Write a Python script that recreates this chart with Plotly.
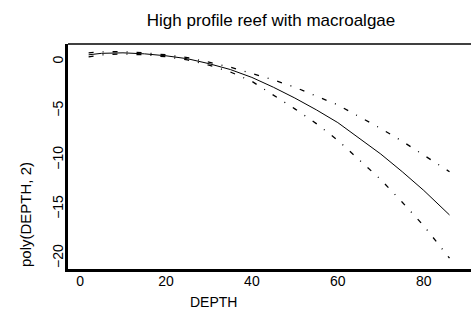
import plotly.graph_objects as go

depth = [2, 5, 10, 15, 20, 25, 30, 35, 40, 45, 50, 55, 60, 65, 70, 75, 80, 86]
fit = [0.7, 0.85, 0.9, 0.8, 0.6, 0.3, -0.2, -0.8, -1.6, -2.6, -3.7, -4.9, -6.2, -7.8, -9.4, -11.2, -13.1, -15.6]
upper = [0.9, 1.0, 1.02, 0.9, 0.7, 0.42, -0.05, -0.55, -1.2, -1.85, -2.6, -3.5, -4.4, -5.6, -6.8, -8.1, -9.5, -11.2]
lower = [0.5, 0.7, 0.78, 0.7, 0.5, 0.18, -0.35, -1.05, -2.0, -3.4, -4.8, -6.3, -8.0, -10.0, -12.0, -14.3, -16.7, -20.0]
xticks = [0, 20, 40, 60, 80]
yticks = [0, -5, -10, -15, -20]

font = "Liberation Sans, Arial, sans-serif"
fig = go.Figure()
fig.add_trace(go.Scatter(x=depth, y=fit, mode="lines", line=dict(color="black", width=1), showlegend=False))
for band in (upper, lower):
    fig.add_trace(go.Scatter(x=depth, y=band, mode="lines",
                             line=dict(color="black", width=1.3, dash="5px,9px,1px,9px"),
                             showlegend=False))

fig.update_layout(
    width=471, height=314,
    margin=dict(l=68, r=0, t=44, b=45, autoexpand=False),
    paper_bgcolor="white", plot_bgcolor="white",
    font=dict(family=font, color="black", size=13),
    title=dict(text="High profile reef with macroalgae", x=271 / 471, xanchor="center", y=(314 - 20) / 314,
               yanchor="middle", font=dict(size=17, family=font)),
    xaxis=dict(range=[-2.8, 91], tickvals=xticks, ticks="", ticklabelstandoff=-3, automargin=False,
               showgrid=False, zeroline=False, showline=True, linewidth=3, linecolor="black",
               tickfont=dict(size=14)),
    yaxis=dict(range=[-21.1, 1.8], tickvals=yticks, ticks="", ticklabelstandoff=-4, automargin=False,
               tickangle=-90, showgrid=False, zeroline=False, showline=True, linewidth=3,
               linecolor="black", tickfont=dict(size=14)),
)
fig.add_shape(type="line", xref="paper", yref="paper", x0=0, x1=1, y0=1, y1=1,
              line=dict(color="black", width=1.5))
fig.add_annotation(text="DEPTH", xref="paper", yref="paper", x=(213 - 68) / 403, y=-(302 - 269) / 225,
                   xanchor="center", yanchor="middle", showarrow=False, font=dict(size=14))
fig.add_annotation(text="poly(DEPTH, 2)", xref="paper", yref="paper", x=(25 - 68) / 403,
                   y=(269 - 215) / 225, xanchor="center", yanchor="middle", textangle=-90,
                   showarrow=False, font=dict(size=15))
fig.write_html("out.html", config={"displayModeBar": False},
               post_script="document.body.style.margin='0';document.body.style.overflow='hidden';")
